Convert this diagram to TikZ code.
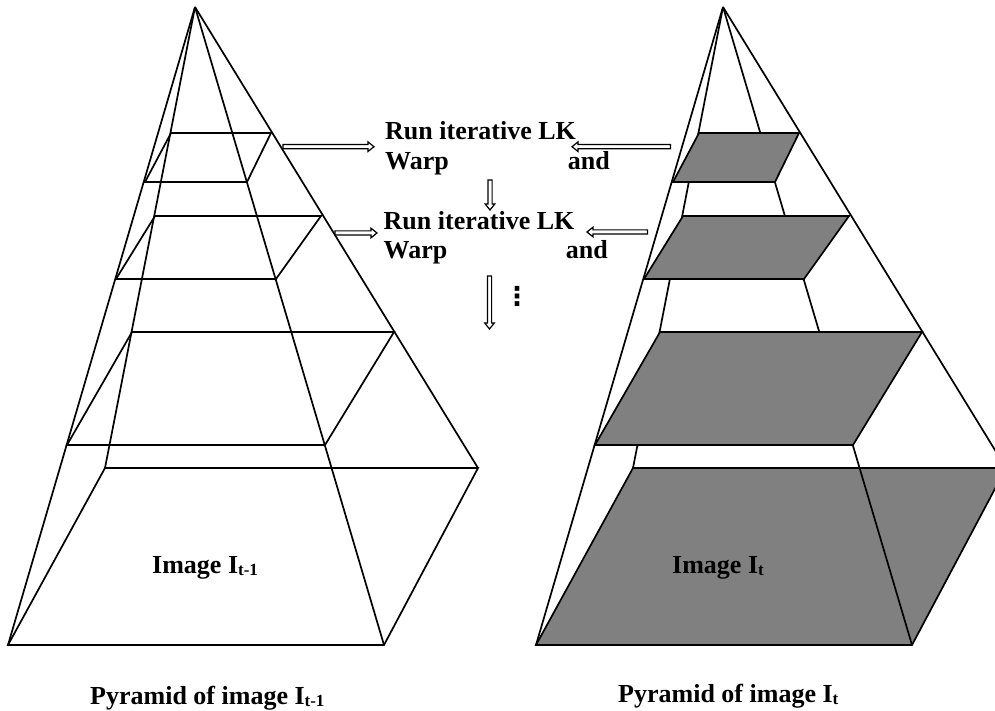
\documentclass[tikz,border=0pt]{standalone}
\usepackage{fontspec}
\setmainfont{Liberation Serif}
\newfontfamily\symfont{DejaVu Sans}
\usetikzlibrary{calc}
\definecolor{levelgray}{RGB}{128,128,128}
\newcommand{\subs}[1]{\raisebox{-2pt}{\fontsize{17}{17}\selectfont #1}}
\tikzset{
  edge/.style={line width=1.7pt},
  levelfill/.style={draw, fill=levelgray, line width=1.7pt},
  lbl/.style={font=\bfseries\fontsize{26}{30}\selectfont, inner sep=0pt, anchor=base west},
  lble/.style={lbl, anchor=base east},
  blockarrow/.style={draw, fill=white, line width=1.2pt, to path={
    let \p1=(\tikztostart), \p2=(\tikztotarget),
        \n1={atan2(\y2-\y1,\x2-\x1)}, \n2={veclen(\x2-\x1,\y2-\y1)} in
    [shift={(\p1)}, rotate=\n1]
    (0pt,-2.1pt) -- (\n2*1pt-6pt,-2.1pt) -- (\n2*1pt-6pt,-4.8pt) -- (\n2*1pt,0pt)
    -- (\n2*1pt-6pt,4.8pt) -- (\n2*1pt-6pt,2.1pt) -- (0pt,2.1pt) -- cycle}}
}
\begin{document}
\begin{tikzpicture}[x=1pt,y=-1pt]
\useasboundingbox (0,0) rectangle (995,711);
\clip (0,0) rectangle (995,711);

% ---------- left pyramid ----------
\coordinate (LA) at (195,7);
\coordinate (LBFL) at (8,645);   \coordinate (LBFR) at (384,645);
\coordinate (LBBR) at (478,468); \coordinate (LBBL) at (105,468);
\coordinate (L1FL) at (145,182); \coordinate (L1FR) at (247,182);
\coordinate (L1BR) at (271,133); \coordinate (L1BL) at (171,133);
\coordinate (L2FL) at (116,279); \coordinate (L2FR) at (276,279);
\coordinate (L2BR) at (321,216); \coordinate (L2BL) at (155,216);
\coordinate (L3FL) at (67,445);  \coordinate (L3FR) at (325,445);
\coordinate (L3BR) at (394,332); \coordinate (L3BL) at (132,332);

\draw[edge] (LA) -- (LBFL);
\draw[edge] (LA) -- (LBBL);
\draw[edge] (LA) -- (LBFR);
\draw[edge] (LA) -- (LBBR);
\draw[edge] (LBFL) -- (LBFR) -- (LBBR) -- (LBBL) -- cycle;
\draw[edge] (L1FL) -- (L1FR) -- (L1BR) -- (L1BL) -- cycle;
\draw[edge] (L2FL) -- (L2FR) -- (L2BR) -- (L2BL) -- cycle;
\draw[edge] (L3FL) -- (L3FR) -- (L3BR) -- (L3BL) -- cycle;

% ---------- right pyramid ----------
\begin{scope}[xshift=528pt]
\coordinate (RA) at (195,7);
\coordinate (RBFL) at (8,645);   \coordinate (RBFR) at (384,645);
\coordinate (RBBR) at (478,468); \coordinate (RBBL) at (105,468);
\coordinate (R1FL) at (145,182); \coordinate (R1FR) at (247,182);
\coordinate (R1BR) at (271,133); \coordinate (R1BL) at (171,133);
\coordinate (R2FL) at (116,279); \coordinate (R2FR) at (276,279);
\coordinate (R2BR) at (321,216); \coordinate (R2BL) at (155,216);
\coordinate (R3FL) at (67,445);  \coordinate (R3FR) at (325,445);
\coordinate (R3BR) at (394,332); \coordinate (R3BL) at (132,332);
\end{scope}

\draw[edge] (RA) -- (RBFL);
\draw[edge] (RA) -- (RBBL);
\draw[edge] (RA) -- (RBFR);
\draw[edge] (RA) -- (RBBR);
\path[levelfill] (R1FL) -- (R1FR) -- (R1BR) -- (R1BL) -- cycle;
\path[levelfill] (R2FL) -- (R2FR) -- (R2BR) -- (R2BL) -- cycle;
\path[levelfill] (R3FL) -- (R3FR) -- (R3BR) -- (R3BL) -- cycle;
\path[levelfill] (RBFL) -- (RBFR) -- (RBBR) -- (RBBL) -- cycle;
\draw[edge] ($(RA)!0.7226!(RBFR)$) coordinate (RFE) -- (RBFR);

% ---------- texts ----------
\node[lbl] (run1) at (385,140) {Run iterative LK};
\node[lbl] (warp1) at (385,169.5) {Warp};
\node[lble] (and1) at (610,169.5) {and};
\node[lbl] (run2) at (383.5,229.3) {Run iterative LK};
\node[lbl] (warp2) at (383.5,258.3) {Warp};
\node[lble] (and2) at (608,258.3) {and};
\node[inner sep=0pt, font=\symfont\bfseries\fontsize{26}{30}\selectfont] (dots) at (517,296) {⋮};

\node[lbl] (imgL) at (152,573) {Image I\subs{t-1}};
\node[lbl] (imgR) at (672,573) {Image I\subs{t}};
\node[lbl] (capL) at (90,704) {Pyramid of image I\subs{t-1}};
\node[lbl] (capR) at (618,702) {Pyramid of image I\subs{t}};

% ---------- arrows ----------
\coordinate (a1s) at (283,146.7); \coordinate (a1e) at (374,146.7);
\coordinate (a2s) at (670.5,146.7); \coordinate (a2e) at (572,146.7);
\coordinate (a3s) at (490,180); \coordinate (a3e) at (490,210);
\coordinate (a4s) at (335,233); \coordinate (a4e) at (377,233);
\coordinate (a5s) at (647.5,232); \coordinate (a5e) at (587,232);
\coordinate (a6s) at (489.5,276); \coordinate (a6e) at (489.5,329);
\draw[blockarrow] (a1s) to (a1e);
\draw[blockarrow] (a2s) to (a2e);
\draw[blockarrow] (a3s) to (a3e);
\draw[blockarrow] (a4s) to (a4e);
\draw[blockarrow] (a5s) to (a5e);
\draw[blockarrow] (a6s) to (a6e);
\end{tikzpicture}
\end{document}
